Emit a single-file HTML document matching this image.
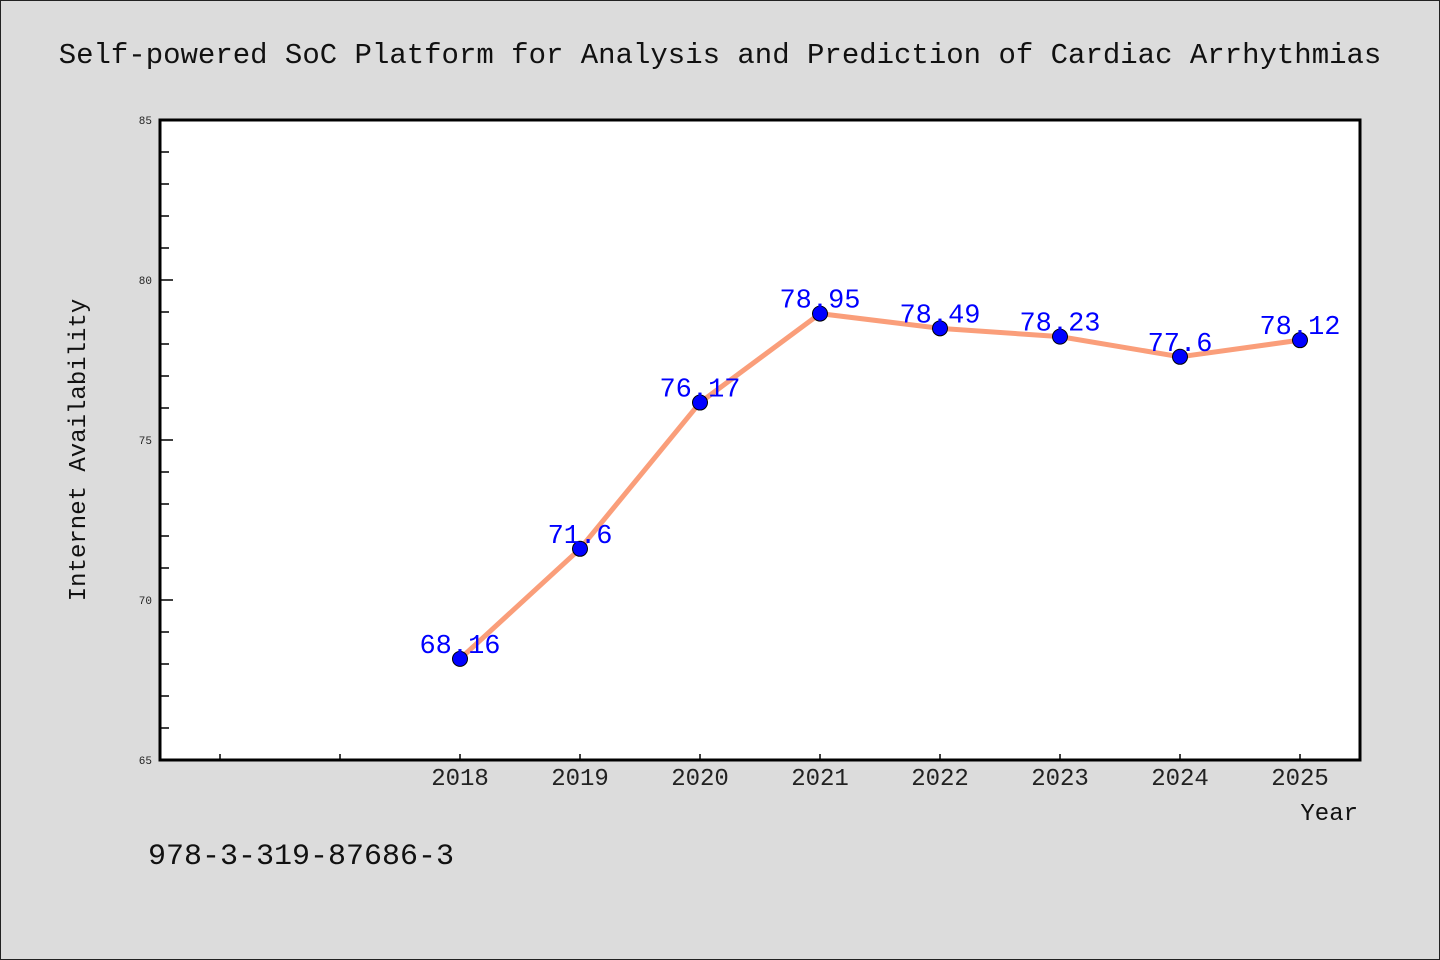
<!DOCTYPE html>
<html><head><meta charset="utf-8"><style>
body{margin:0;background:#dcdcdc;}
svg{display:block;font-family:"Liberation Mono","DejaVu Sans Mono",monospace;}
</style></head><body>
<svg width="1440" height="960">
<rect x="0.5" y="0.5" width="1439" height="959" fill="#dcdcdc" stroke="#222"/>
<text x="720" y="63" text-anchor="middle" font-size="29" fill="#111">Self-powered SoC Platform for Analysis and Prediction of Cardiac Arrhythmias</text>
<rect x="160" y="120" width="1200" height="640" fill="#fff"/>
<g id="ticks"></g>
<g id="series"></g>
<rect x="160" y="120" width="1200" height="640" fill="none" stroke="#000" stroke-width="3"/>
<text transform="translate(85,450) rotate(-90)" text-anchor="middle" font-size="24" fill="#111">Internet Availability</text>
<text x="1358" y="820" text-anchor="end" font-size="24" fill="#111">Year</text>
<text x="148" y="864" font-size="30" fill="#111">978-3-319-87686-3</text>
</svg>
<script>
const years=[2018,2019,2020,2021,2022,2023,2024,2025];
const values=[68.16,71.6,76.17,78.95,78.49,78.23,77.6,78.12];
const labels=["68.16","71.6","76.17","78.95","78.49","78.23","77.6","78.12"];
const yTicks=[65,70,75,80,85];
const NS="http://www.w3.org/2000/svg";
const X0=160,X1=1360,Y0=760,Y1=120;
const xMin=2015.5,xMax=2025.5,yMin=65,yMax=85;
const sx=v=>X0+(v-xMin)/(xMax-xMin)*(X1-X0);
const sy=v=>Y0-(v-yMin)/(yMax-yMin)*(Y0-Y1);
function mk(tag,attrs,parent){const e=document.createElementNS(NS,tag);for(const k in attrs)e.setAttribute(k,attrs[k]);parent.appendChild(e);return e;}
const tg=document.getElementById('ticks');
for(let v=yMin;v<=yMax;v++){
  const major=yTicks.includes(v);
  const t=mk('line',{x1:X0,x2:X0+(major?13:9),y1:sy(v),y2:sy(v),stroke:'#000','stroke-width':1.5},tg);
  
  
}
yTicks.forEach(v=>{
  const t=mk('text',{x:X0-8,y:sy(v)+4,'text-anchor':'end','font-size':11,fill:'#222'},tg);
  t.textContent=v;
  
  
});
for(let v=2016;v<=2025;v++){
  const t=mk('line',{x1:sx(v),x2:sx(v),y1:Y0,y2:Y0-6,stroke:'#000','stroke-width':1.5},tg);
  
  
}
years.forEach(y=>{
  const t=mk('text',{x:sx(y),y:Y0+25,'text-anchor':'middle','font-size':24,fill:'#222'},tg);
  t.textContent=y;
  
  
});
const sg=document.getElementById('series');
const line=mk('polyline',{points:years.map((y,i)=>sx(y)+','+sy(values[i])).join(' '),fill:'none',stroke:'#fa9e7a','stroke-width':5,'stroke-linejoin':'round'},sg);


years.forEach((y,i)=>{
  const c=mk('circle',{cx:sx(y),cy:sy(values[i]),r:7.5,fill:'#0000ff',stroke:'#000','stroke-width':1},sg);
  
  
});
years.forEach((y,i)=>{
  const t=mk('text',{x:sx(y),y:sy(values[i])-6,'text-anchor':'middle','font-size':27,fill:'#0000ff'},sg);
  t.textContent=labels[i];
  
  
});
</script>
</body></html>
